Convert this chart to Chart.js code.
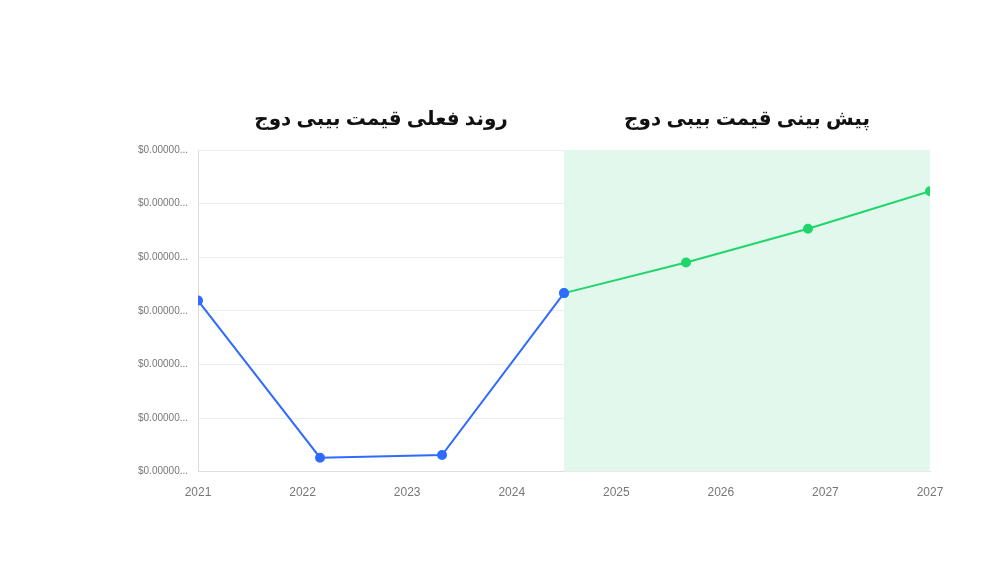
<!DOCTYPE html>
<html><head><meta charset="utf-8">
<script src="https://cdn.jsdelivr.net/npm/chart.js@4"></script>
<style>html,body{margin:0;background:#fff}#w{position:relative;width:1000px;height:562px}</style>
</head><body><div id="w"><canvas id="c" width="1000" height="562"></canvas></div>
<script>
const tickLabels=["2021","2022","2023","2024","2025","2026","2027","2027"];
const yTickLabel="$0.00000...";
const actualX=[0,7/6,14/6,3.5];
const actualY=[3.19,0.26,0.31,3.33];
const forecastX=[3.5,3.5+7/6,3.5+14/6,7];
const forecastY=[3.33,3.9,4.53,5.23];
const titleActual="روند فعلی قیمت بیبی دوج";
const titleForecast="پیش بینی قیمت بیبی دوج";
const pts=(xs,ys)=>xs.map((x,i)=>({x,y:ys[i]}));
const deco={id:'deco',beforeDatasetsDraw(ch){const {ctx,chartArea:a,scales:{x}}=ch;ctx.save();ctx.fillStyle='#e3f8ec';const x0=x.getPixelForValue(forecastX[0]);ctx.fillRect(x0,a.top,a.right-x0,a.bottom-a.top);ctx.restore();},
afterDraw(ch){const {ctx,chartArea:a,scales:{x}}=ch;ctx.save();ctx.fillStyle='#111';ctx.font='bold 20px "Noto Sans", "DejaVu Sans", sans-serif';ctx.textAlign='center';ctx.direction='rtl';
ctx.fillText(titleActual,(a.left+x.getPixelForValue(3.5))/2,125);ctx.fillText(titleForecast,(x.getPixelForValue(3.5)+a.right)/2,125);ctx.restore();}};
new Chart(document.getElementById('c'),{type:'line',
data:{datasets:[
{data:pts(actualX,actualY),borderColor:'#2f6bff',backgroundColor:'#2f6bff',borderWidth:2,pointRadius:4,pointHoverRadius:4},
{data:pts(forecastX,forecastY),borderColor:'#1fd66b',backgroundColor:'#1fd66b',borderWidth:2,pointRadius:4,pointHoverRadius:4}]},
options:{responsive:false,animation:false,plugins:{legend:{display:false},tooltip:{enabled:false}},
layout:{padding:{left:128,right:70,top:150,bottom:56}},
scales:{x:{type:'linear',min:0,max:7,ticks:{stepSize:1,color:'#777',font:{size:12},padding:6,callback:v=>tickLabels[v]},grid:{display:false},border:{display:true,color:'#ddd'}},
y:{min:0,max:6,ticks:{stepSize:1,color:'#777',font:{size:10},padding:10,callback:()=>yTickLabel},grid:{color:'#ececec',drawTicks:false},border:{display:true,color:'#ddd'}}}},
plugins:[deco]});
</script></body></html>
